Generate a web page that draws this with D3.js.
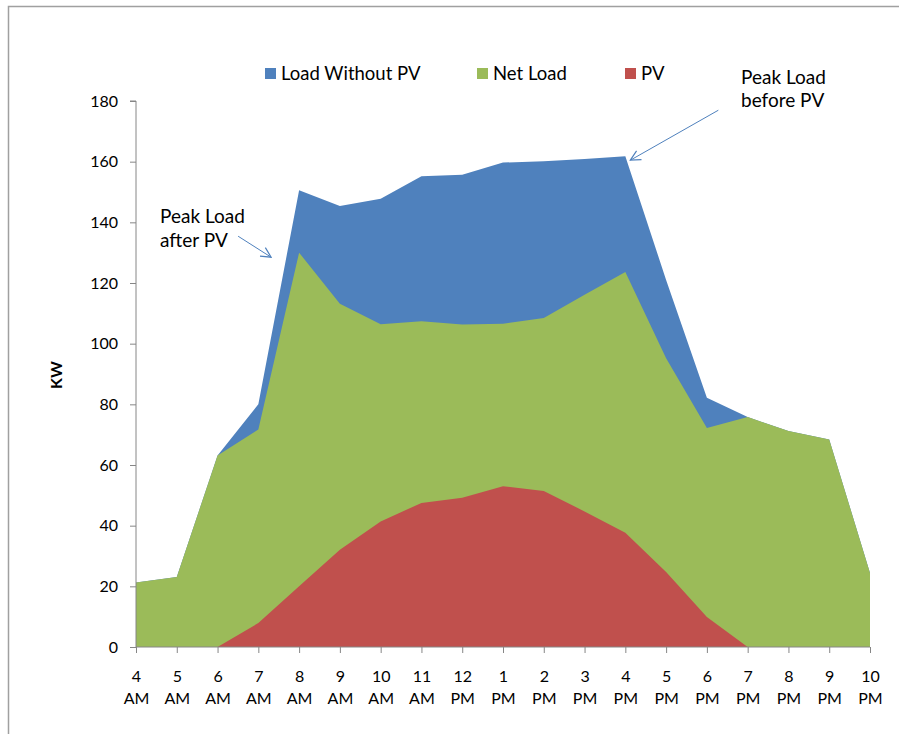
<!DOCTYPE html>
<html>
<head>
<meta charset="utf-8">
<script src="https://cdn.jsdelivr.net/npm/d3@7"></script>
<style>
  body { margin: 0; background: #fff; }
  svg { display: block; }
  text { font-family: Lato, "Open Sans", sans-serif; fill: #000; }
</style>
</head>
<body>
<svg id="chart" width="899" height="736"></svg>
<script>
// ---- Data ----
const hours = ["4", "5", "6", "7", "8", "9", "10", "11", "12", "1", "2", "3", "4", "5", "6", "7", "8", "9", "10"];
const periods = ["AM", "AM", "AM", "AM", "AM", "AM", "AM", "AM", "PM", "PM", "PM", "PM", "PM", "PM", "PM", "PM", "PM", "PM", "PM"];
const categories = hours.map((h, i) => h + " " + periods[i]);
const loadWithoutPV = [21.3, 23.1, 63.1, 80.0, 150.6, 145.4, 147.8, 155.2, 155.7, 159.7, 160.1, 160.9, 161.8, 121.0, 82.2, 75.8, 71.2, 68.4, 24.4];
const netLoad =       [21.3, 23.1, 63.1, 71.7, 130.0, 113.2, 106.4, 107.4, 106.3, 106.6, 108.5, 116.1, 123.6, 95.2, 72.2, 75.8, 71.2, 68.4, 24.4];
const pv =            [0, 0, 0, 7.9, 20.0, 32.1, 41.4, 47.5, 49.2, 53.0, 51.4, 44.7, 37.7, 24.7, 9.9, 0, 0, 0, 0];
const yTicks = [0, 20, 40, 60, 80, 100, 120, 140, 160, 180];
const seriesNames = ["Load Without PV", "Net Load", "PV"];
const seriesColors = ["#4F81BD", "#9BBB59", "#C0504D"];
const seriesData = [loadWithoutPV, netLoad, pv];

// ---- Layout ----
const svg = d3.select("#chart");
const x = d3.scalePoint().domain(categories).range([136, 870]);
const y = d3.scaleLinear().domain([0, 180]).range([647, 101]);
const axisColor = "#868686";

// outer border (only top and left visible in the frame)
svg.append("path").attr("d", "M8.5,734V6.5H899")
  .attr("fill", "none").attr("stroke", "#A0A0A0").attr("stroke-width", 1.5);

// areas
const area = d3.area()
  .x((d, i) => x(categories[i]))
  .y0(y(0))
  .y1(d => y(d));
seriesData.forEach((s, k) => {
  svg.append("path").datum(s).attr("d", area).attr("fill", seriesColors[k]);
});

// y axis
const yAxis = d3.axisLeft(y).tickValues(yTicks).tickSize(6).tickPadding(12);
const gy = svg.append("g").attr("transform", "translate(136,0)").call(yAxis);
gy.select(".domain").attr("stroke", axisColor).attr("d", `M-6,${y(180)}H0V${y(0)}`);
gy.selectAll(".tick line").attr("stroke", axisColor);
gy.selectAll(".tick text").attr("font-family", "Lato, sans-serif").attr("font-size", 16).attr("fill", "#000");

// x axis
const xAxis = d3.axisBottom(x).tickSize(6).tickFormat("");
const gx = svg.append("g").attr("transform", `translate(0,${y(0)})`).call(xAxis);
gx.select(".domain").attr("stroke", axisColor).attr("d", `M${x(categories[0])},0H${x(categories[categories.length-1])}`);
gx.selectAll(".tick line").attr("stroke", axisColor);
gx.selectAll(".tick").each(function(d, i) {
  const t = d3.select(this).append("text")
    .attr("text-anchor", "middle")
    .attr("font-family", "Lato, sans-serif")
    .attr("font-size", 16)
    .attr("fill", "#000");
  t.append("tspan").attr("x", 0).attr("y", 35).text(hours[i]);
  t.append("tspan").attr("x", 0).attr("y", 57).text(periods[i]);
});

// y axis title
svg.append("text")
  .attr("transform", `translate(62,${(y(0) + y(180)) / 2 + 1}) rotate(-90)`)
  .attr("text-anchor", "middle")
  .attr("font-size", 16).attr("font-weight", "bold")
  .text("KW");

// legend
const legendX = [265, 477, 625];
seriesNames.forEach((n, k) => {
  const g = svg.append("g").attr("transform", `translate(${legendX[k]},73)`);
  g.append("rect").attr("x", 0).attr("y", -5).attr("width", 11).attr("height", 11).attr("fill", seriesColors[k]);
  g.append("text").attr("x", 16).attr("y", 7).attr("font-size", 18.5).text(n);
});

// annotations
const defs = svg.append("defs");
defs.append("marker").attr("id", "arrow")
  .attr("viewBox", "0 0 12 12").attr("refX", 11).attr("refY", 6)
  .attr("markerWidth", 12).attr("markerHeight", 12).attr("markerUnits", "userSpaceOnUse")
  .attr("orient", "auto")
  .append("path").attr("d", "M1,1L11,6L1,11").attr("fill", "none").attr("stroke", "#4F81BD").attr("stroke-width", 1.2);

const peakBefore = { x: x("4 PM") + 5, y: y(d3.max(loadWithoutPV)) + 4 };
svg.append("line")
  .attr("x1", peakBefore.x + 88).attr("y1", peakBefore.y - 50)
  .attr("x2", peakBefore.x).attr("y2", peakBefore.y)
  .attr("stroke", "#4F81BD").attr("stroke-width", 1).attr("marker-end", "url(#arrow)");
const tb = svg.append("text").attr("font-size", 19);
tb.append("tspan").attr("x", 741).attr("y", 84).text("Peak Load");
tb.append("tspan").attr("x", 741).attr("y", 107).text("before PV");

const peakAfter = { x: x("8 AM") - 28, y: y(128.5) };
svg.append("line")
  .attr("x1", peakAfter.x - 33).attr("y1", peakAfter.y - 21)
  .attr("x2", peakAfter.x).attr("y2", peakAfter.y)
  .attr("stroke", "#4F81BD").attr("stroke-width", 1).attr("marker-end", "url(#arrow)");
const ta = svg.append("text").attr("font-size", 19);
ta.append("tspan").attr("x", 160).attr("y", 223).text("Peak Load");
ta.append("tspan").attr("x", 160).attr("y", 247).text("after PV");
</script>
</body>
</html>
